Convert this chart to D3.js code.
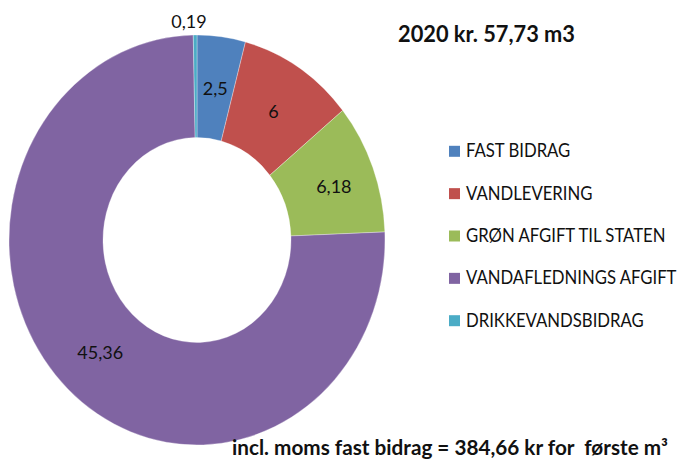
<!DOCTYPE html>
<html><head><meta charset="utf-8">
<script src="https://cdn.jsdelivr.net/npm/d3@7"></script>
<style>body{margin:0;background:#fff;}svg{display:block;}</style>
</head><body>
<svg id="chart" width="681" height="462"></svg>
<script>
const categories = ["FAST BIDRAG","VANDLEVERING","GRØN AFGIFT TIL STATEN","VANDAFLEDNINGS AFGIFT","DRIKKEVANDSBIDRAG"];
const values = [2.5, 6, 6.18, 45.36, 0.19];
const valueLabels = ["2,5","6","6,18","45,36","0,19"];
const colors = ["#4F81BD","#C0504D","#9BBB59","#8064A2","#4BACC6"];
const title = "2020 kr. 57,73 m3";
const footnote = "incl. moms fast bidrag = 384,66 kr for  første m³";

const svg = d3.select("#chart");
const font = "Lato, 'Open Sans', sans-serif";
const cx = 197, cy = 240, rx = 188, ry = 205;
const sy = ry / rx;

const data = categories.map((c,i)=>({name:c, value:values[i], label:valueLabels[i], color:colors[i]}));
const pie = d3.pie().value(d=>d.value).sort(null);
const arcs = pie(data);
const arc = d3.arc().innerRadius(rx*0.5).outerRadius(rx);

const g = svg.append("g").attr("transform",`translate(${cx},${cy}) scale(1,${sy})`);
g.selectAll("path").data(arcs).join("path")
  .attr("d", arc).attr("fill", d=>d.data.color)
  .attr("stroke","#fff").attr("stroke-width",0.3);

const labelArc = d3.arc().innerRadius(rx*0.75).outerRadius(rx*0.75);
const outArc = d3.arc().innerRadius(rx*1.07).outerRadius(rx*1.07);
svg.append("g").selectAll("text").data(arcs).join("text")
  .attr("x", d=>{ const small = (d.endAngle-d.startAngle) < 0.1; const p = (small?outArc:labelArc).centroid(d); return cx + p[0] + (small?-6:0) + (d.data.label==="6,18"?5:0); })
  .attr("y", d=>{ const small = (d.endAngle-d.startAngle) < 0.1; const p = (small?outArc:labelArc).centroid(d); return cy + p[1]*sy; })
  .attr("text-anchor","middle").attr("dominant-baseline","central")
  .attr("font-family", font).attr("font-size", 18).attr("fill","#111")
  .text(d=>d.data.label);

svg.append("text").attr("x",398).attr("y",42)
  .attr("font-family",font).attr("font-weight","bold").attr("font-size",22)
  .attr("textLength",177).attr("lengthAdjust","spacingAndGlyphs")
  .attr("fill","#111").text(title);

const legendY = d3.scalePoint().domain(categories).range([157.3, 326.7]);
const lg = svg.append("g");
lg.selectAll("rect").data(data).join("rect")
  .attr("x",449).attr("y",d=>legendY(d.name)-11.5).attr("width",11).attr("height",11)
  .attr("fill",d=>d.color);
lg.selectAll("text").data(data).join("text")
  .attr("transform",d=>`translate(466,${legendY(d.name)}) scale(0.88,1)`)
  .attr("font-family",font).attr("font-size",19).attr("fill","#111")
  .text(d=>d.name);

svg.append("text").attr("x",232).attr("y",455)
  .attr("font-family",font).attr("font-weight","bold").attr("font-size",20)
  .attr("textLength",436).attr("lengthAdjust","spacingAndGlyphs")
  .style("white-space","pre")
  .attr("fill","#111").text(footnote);
</script>
</body></html>
